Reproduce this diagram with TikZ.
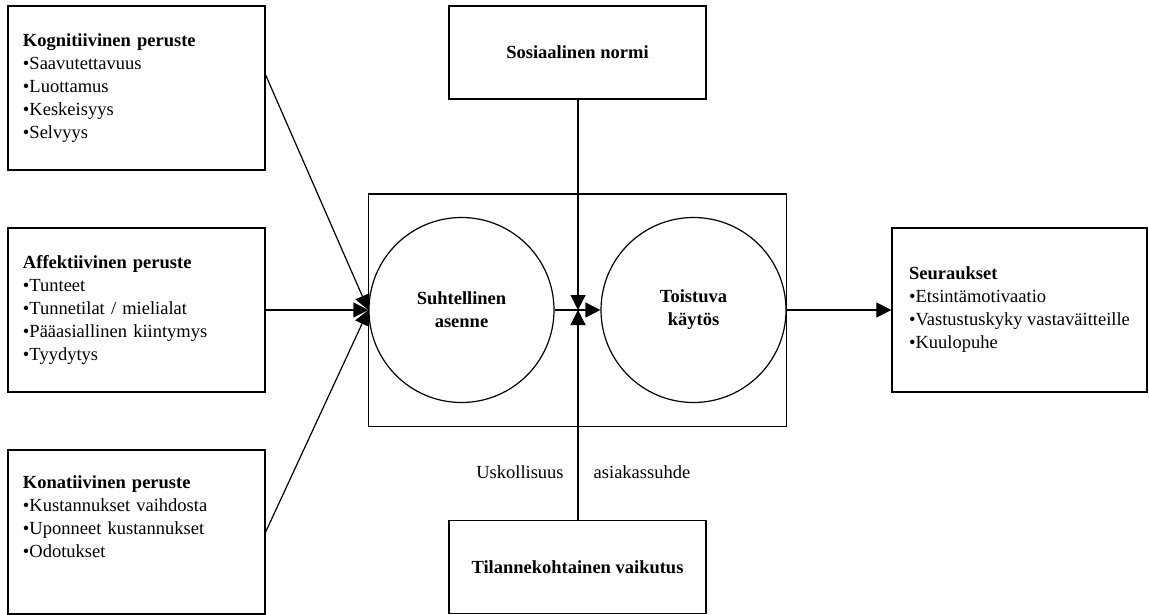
\documentclass[tikz,border=0pt]{standalone}
\usepackage{fontspec}
\setmainfont{Liberation Serif}
\usetikzlibrary{shapes, arrows, arrows.meta, calc, positioning, fit}

\tikzset{
    teksti/.style={font=\fontsize{18.5}{23}\selectfont},
    perusbox/.style={teksti, draw, rectangle, line width=1.3pt, minimum width=257pt, minimum height=164pt, inner xsep=15pt, text width=227pt, align=left},
    sivubox/.style={draw, rectangle, line width=1.3pt, minimum width=257pt, minimum height=93pt, font=\fontsize{18.5}{23}\selectfont\bfseries},
    ympyra/.style={draw, circle, line width=1.2pt, minimum size=185pt, inner sep=0pt, align=center, font=\fontsize{18.5}{23}\selectfont\bfseries},
    nuoli/.style={line width=1.2pt, -{Triangle[length=15pt, width=15pt]}},
    viiva/.style={line width=1.2pt}
}

\begin{document}
\begin{tikzpicture}[x=1pt, y=-1pt]
        \useasboundingbox (0,0) rectangle (1149,615);

        \node[perusbox] (kog) at (136.5, 88) {\textbf{Kognitiivinen peruste}\\•Saavutettavuus\\•Luottamus\\•Keskeisyys\\•Selvyys};
        \node[perusbox] (aff) at (136.5, 310) {\textbf{Affektiivinen peruste}\\•Tunteet\\•Tunnetilat / mielialat\\•Pääasiallinen kiintymys\\•Tyydytys};
        \node[perusbox] (kon) at (136.5, 532) {\textbf{Konatiivinen peruste}\\•Kustannukset vaihdosta\\•Uponneet kustannukset\\•Odotukset\\\strut};

        \node[ympyra] (asenne) at (461.5, 310) {Suhtellinen\\asenne};
        \node[ympyra] (kaytos) at (693.5, 310) {Toistuva\\käytös};
        \node[draw, viiva, fit=(asenne)(kaytos), inner xsep=0pt, inner ysep=23pt] (kehys) {};

        \node[sivubox] (normi) at (577.5, 52.5) {Sosiaalinen normi};
        \node[sivubox] (tilanne) at (577.5, 567) {Tilannekohtainen vaikutus};

        \node[teksti, draw, rectangle, line width=1.3pt, minimum width=255pt, minimum height=164pt, align=left] (seur) at (1019.5, 310) {\textbf{Seuraukset}\\•Etsintämotivaatio\\•Vastustuskyky vastaväitteille\\•Kuulopuhe};

        \node[teksti] (usk) at (520, 472) {Uskollisuus};
        \node[teksti] (suhde) at (642, 472) {asiakassuhde};

        \coordinate (keski) at (578, 310);

        \draw [nuoli] ([yshift=13pt]kog.east) -- (asenne.west);
        \draw [nuoli] (aff.east) -- (asenne.west);
        \draw [nuoli] (kon.east) -- (asenne.west);

        \draw [nuoli] (asenne.east) -- (kaytos.west);
        \draw [nuoli] (normi.south -| keski) -- (keski);
        \draw [nuoli] (tilanne.north -| keski) -- (keski);
        \draw [nuoli] (kaytos.east) -- (seur.west);

    \end{tikzpicture}
\end{document}
